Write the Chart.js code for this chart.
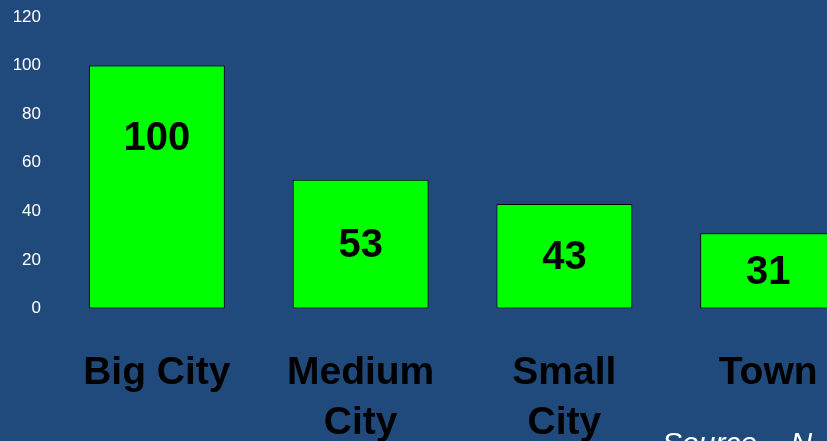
<!DOCTYPE html>
<html>
<head>
<meta charset="utf-8">
<script src="https://cdn.jsdelivr.net/npm/chart.js@4/dist/chart.umd.min.js"></script>
<style>
    html, body { margin: 0; padding: 0; overflow: hidden; background: #214a7c; }
    #wrap { position: relative; width: 880px; height: 470px; }
</style>
</head>
<body>
<div id="wrap"><canvas id="chart"></canvas></div>
<script>
// city size categories and their index values
const categories = ['Big City', ['Medium', 'City'], ['Small', 'City'], 'Town'];
const indexValues = [100, 53, 43, 31];
const yTicks = [0, 20, 40, 60, 80, 100, 120];
const sourceNote = 'Source \u2013 N';

const FONT = '"Liberation Sans", Arial, sans-serif';

// fills the whole canvas with the slide background
const backgroundFill = {
    id: 'backgroundFill',
    beforeDraw(chart) {
        const ctx = chart.ctx;
        ctx.save();
        ctx.fillStyle = '#214a7c';
        ctx.fillRect(0, 0, chart.width, chart.height);
        ctx.restore();
    }
};

// big value numbers inside each bar + the source note
const barValues = {
    id: 'barValues',
    afterDatasetsDraw(chart) {
        const ctx = chart.ctx;
        const meta = chart.getDatasetMeta(0);
        ctx.save();
        ctx.fillStyle = '#000';
        ctx.font = 'bold 40px ' + FONT;
        ctx.textAlign = 'center';
        ctx.textBaseline = 'middle';
        meta.data.forEach((bar, i) => {
            const mid = (bar.y + bar.base) / 2;
            const y = Math.min(mid + 2, bar.y + 73);
            ctx.fillText(String(indexValues[i]), bar.x, y);
        });

        ctx.fillStyle = '#fff';
        ctx.font = 'italic 30px ' + FONT;
        ctx.textAlign = 'left';
        ctx.textBaseline = 'alphabetic';
        ctx.fillText(sourceNote, 662, 453);
        ctx.restore();
    }
};

new Chart(document.getElementById('chart'), {
    type: 'bar',
    data: {
        labels: categories,
        datasets: [{
            data: indexValues,
            backgroundColor: '#00ff00',
            borderColor: '#000',
            borderWidth: 1,
            borderSkipped: false,
            barPercentage: 0.667,
            categoryPercentage: 1
        }]
    },
    options: {
        responsive: true,
        maintainAspectRatio: false,
        animation: false,
        layout: {
            padding: { left: 12, right: 10, top: 17, bottom: 26.5 }
        },
        plugins: {
            legend: { display: false },
            tooltip: { enabled: false }
        },
        scales: {
            x: {
                grid: { display: false, drawTicks: false },
                border: { display: false },
                afterFit(scale) {
                    scale.height = 135;
                    scale.paddingLeft = 0;
                    scale.paddingRight = 0;
                },
                ticks: {
                    color: '#000',
                    padding: 40,
                    maxRotation: 0,
                    autoSkip: false,
                    font: { family: FONT, size: 39, weight: 'bold', lineHeight: 1.28 }
                }
            },
            y: {
                min: yTicks[0],
                max: yTicks[yTicks.length - 1],
                grid: { display: false, drawTicks: false },
                border: { display: false },
                afterFit(scale) {
                    scale.width = 43;
                    scale.paddingTop = 0;
                    scale.paddingBottom = 0;
                },
                afterBuildTicks(scale) {
                    scale.ticks = yTicks.map(v => ({ value: v }));
                },
                ticks: {
                    color: '#fff',
                    padding: 14,
                    font: { family: FONT, size: 17 }
                }
            }
        }
    },
    plugins: [backgroundFill, barValues]
});
</script>
</body>
</html>
